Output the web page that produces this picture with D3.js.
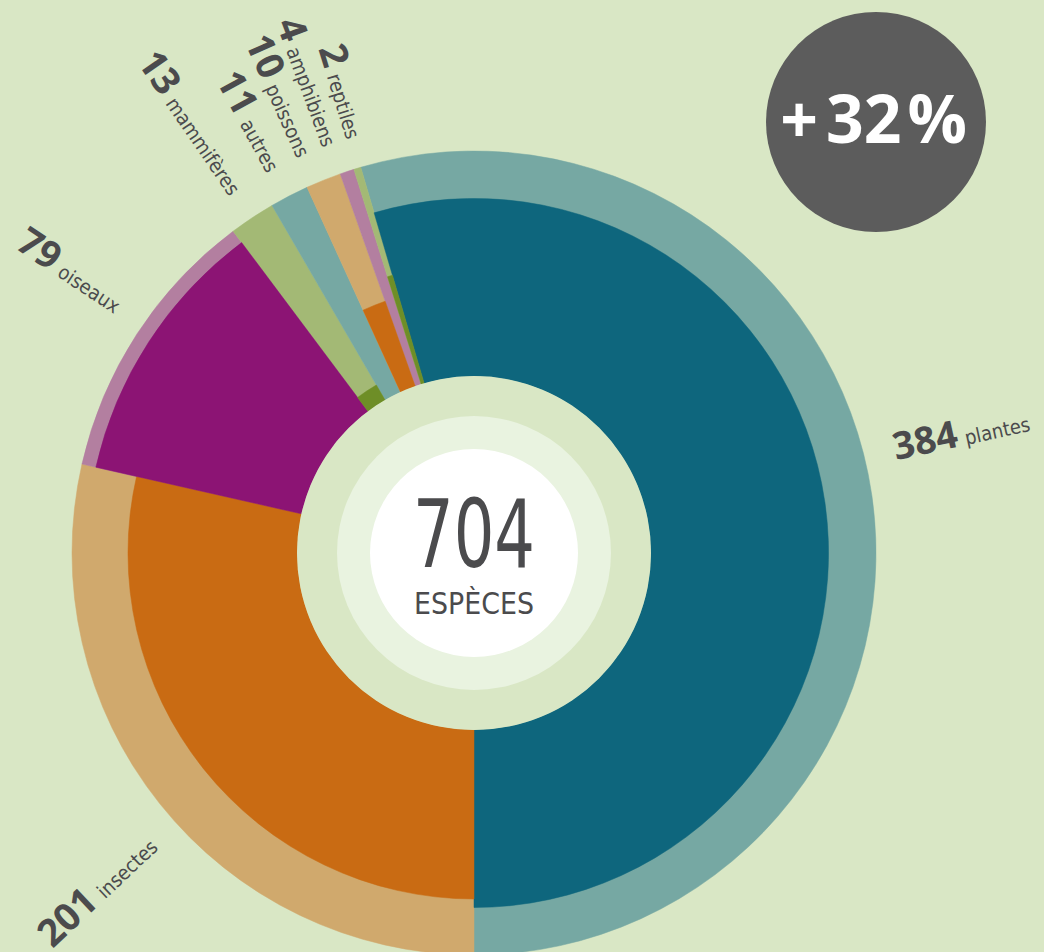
<!DOCTYPE html>
<html lang="fr">
<head>
<meta charset="utf-8">
<title>704 espèces</title>
<script src="https://cdn.jsdelivr.net/npm/d3@7"></script>
<style>
    html, body { margin: 0; padding: 0; background: #d9e7c5; }
    #chart { width: 1044px; height: 952px; overflow: hidden; }
</style>
</head>
<body>
<div id="chart"></div>
<script>
// Data
const categories = ['plantes', 'insectes', 'oiseaux', 'mammifères', 'autres', 'poissons', 'amphibiens', 'reptiles'];
const especes = [384, 201, 79, 13, 11, 10, 4, 2];       // today (light wedge, full radius)
const anciennes = [303, 151, 74, 1, 0, 4, 0, 1];        // earlier count (dark wedge)
const totalLabel = '704';
const totalSub = 'ESPÈCES';
const hausse = ['+', '32', '%'];

// Label angle nudges (degrees) from the wedge middle, as placed in the original
const labelNudge = [-4.2, -4.6, 0.6, -1.0, -1.3, -2.2, -2.1, -0.3];

function renderDonut(containerId) {
    // ============================================================================
    // STEP 1: SETUP
    // ============================================================================
    const container = d3.select(`#${containerId}`);
    container.selectAll('*').remove();

    const W = 1044, H = 952;
    const cx = 474, cy = 553;
    const r0 = 177;    // hole
    const R = 402;     // outer radius

    const svg = container.append('svg')
        .attr('width', W)
        .attr('height', H);

    svg.append('rect')
        .attr('width', W).attr('height', H)
        .attr('fill', '#d9e7c5');

    const g = svg.append('g')
        .attr('transform', `translate(${cx},${cy})`);

    // ============================================================================
    // STEP 2: SCALES AND PIE
    // ============================================================================
    const light = d3.scaleOrdinal()
        .domain(categories)
        .range(['#76a8a3', '#d0a96d', '#b37fa0', '#a3b975']);
    const dark = d3.scaleOrdinal()
        .domain(categories)
        .range(['#0e667d', '#c96b13', '#8c1474', '#6e8e27']);

    // share of the current count -> radius of the dark wedge
    const radius = d3.scaleLinear().domain([0, 1]).range([r0, R]);

    const total = d3.sum(especes);
    const start = Math.PI - 2 * Math.PI * especes[0] / total;  // plantes ends at the bottom
    const pie = d3.pie()
        .sort(null)
        .value(d => d.n)
        .startAngle(start)
        .endAngle(start + 2 * Math.PI);

    const rows = categories.map((c, i) => ({ cat: c, n: especes[i], old: anciennes[i], nudge: labelNudge[i] }));
    const arcs = pie(rows);

    // ============================================================================
    // STEP 3: DRAW WEDGES - light full wedge, dark wedge for the earlier count
    // ============================================================================
    const arcLight = d3.arc().innerRadius(r0).outerRadius(R);
    const arcDark = d3.arc().innerRadius(r0).outerRadius(d => radius(d.data.old / d.data.n));

    g.selectAll('.light')
        .data(arcs)
        .enter()
        .append('path')
        .attr('class', 'light')
        .attr('d', arcLight)
        .attr('fill', d => light(d.data.cat))
        .attr('stroke', d => light(d.data.cat))
        .attr('stroke-width', 0.5);

    g.selectAll('.dark')
        .data(arcs.filter(d => d.data.old > 0))
        .enter()
        .append('path')
        .attr('class', 'dark')
        .attr('d', arcDark)
        .attr('fill', d => dark(d.data.cat))
        .attr('stroke', d => dark(d.data.cat))
        .attr('stroke-width', 0.5);

    // ============================================================================
    // STEP 4: CENTER DISCS AND TOTAL
    // ============================================================================
    g.append('circle').attr('r', r0).attr('fill', '#d9e7c5');
    g.append('circle').attr('r', 137).attr('fill', '#e9f3e0');
    g.append('circle').attr('r', 104).attr('fill', '#ffffff');

    g.append('text')
        .attr('y', 14)
        .attr('text-anchor', 'middle')
        .attr('textLength', 122)
        .attr('lengthAdjust', 'spacingAndGlyphs')
        .style('font-family', '"Liberation Sans Narrow", "DejaVu Sans Condensed", sans-serif')
        .style('font-size', '95px')
        .style('fill', '#4b4b4d')
        .text(totalLabel);

    g.append('text')
        .attr('y', 61)
        .attr('text-anchor', 'middle')
        .attr('textLength', 120)
        .attr('lengthAdjust', 'spacingAndGlyphs')
        .style('font-family', '"Liberation Sans Narrow", "DejaVu Sans Condensed", sans-serif')
        .style('font-size', '31px')
        .style('fill', '#4b4b4d')
        .text(totalSub);

    // ============================================================================
    // STEP 5: RADIAL LABELS
    // ============================================================================
    const labelR = 432;
    arcs.forEach(d => {
        const deg = (d.startAngle + d.endAngle) / 2 * 180 / Math.PI + d.data.nudge;
        const a = deg * Math.PI / 180;
        const x = labelR * Math.sin(a);
        const y = -labelR * Math.cos(a);
        const norm = ((deg % 360) + 360) % 360;
        const right = norm < 180;
        const rot = right ? norm - 90 : norm + 90;

        const t = g.append('text')
            .attr('transform', `translate(${x},${y}) rotate(${rot})`)
            .attr('text-anchor', right ? 'start' : 'end')
            .style('fill', '#4b4b4d');

        t.append('tspan')
            .style('font-family', '"Open Sans", sans-serif')
            .style('font-weight', 700)
            .style('font-size', '38px')
            .text(d.data.n);

        t.append('tspan')
            .attr('dx', 7)
            .style('font-family', '"Liberation Sans Narrow", "DejaVu Sans Condensed", sans-serif')
            .style('font-size', '20px')
            .text(d.data.cat);
    });

    // ============================================================================
    // STEP 6: GROWTH BADGE
    // ============================================================================
    const badge = svg.append('g')
        .attr('transform', 'translate(876,122)');

    badge.append('circle')
        .attr('r', 110)
        .attr('fill', '#5c5c5c');

    const bt = badge.append('text')
        .attr('y', 21)
        .attr('x', -2.5)
        .attr('text-anchor', 'middle')
        .style('font-family', '"Open Sans", sans-serif')
        .style('font-weight', 700)
        .style('font-size', '66px')
        .style('fill', '#ffffff');

    bt.append('tspan').text(hausse[0]);
    bt.append('tspan').attr('dx', 8).text(hausse[1]);
    bt.append('tspan').attr('dx', 6).text(hausse[2]);
}

renderDonut('chart');
</script>
</body>
</html>
